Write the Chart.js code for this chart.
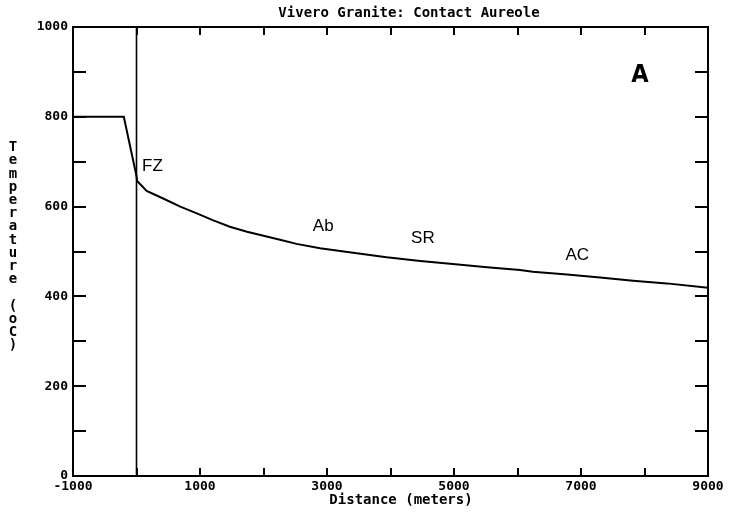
<!DOCTYPE html>
<html>
<head>
<meta charset="utf-8">
<script src="https://cdn.jsdelivr.net/npm/chart.js@4/dist/chart.umd.min.js"></script>
<style>
  html, body { margin: 0; padding: 0; background: #fff; }
</style>
</head>
<body>
<canvas id="chart" width="729" height="514"></canvas>
<script>
// temperature profile across the contact aureole
const distance = [-1000, -200, 0, 10, 160, 420, 690, 950, 1200, 1470, 1740, 2000, 2260, 2520,
  2890, 3410, 3940, 4470, 4980, 5520, 6040, 6240, 6780, 7300, 7820, 8350, 9000];
const temperature = [800, 800, 668, 657, 635, 618, 600, 585, 570, 555, 544, 535, 526, 517,
  507, 497, 487, 479, 472, 465, 459, 455, 449, 442, 435, 429, 419];

// granite contact
const contactX = [0, 0];
const contactY = [0, 1000];

// zone labels
const zoneNames = ['FZ', 'Ab', 'SR', 'AC'];
const zoneX = [250, 2940, 4510, 6940];
const zoneY = [690, 557, 530, 492];

const panelLabel = 'A';
const chartTitle = 'Vivero Granite: Contact Aureole';
const xTitle = 'Distance (meters)';
const yTitle = 'Temperature (oC)';

const mono = '"DejaVu Sans Mono", "Liberation Mono", monospace';

const frame = {
  id: 'frame',
  afterDraw(chart) {
    const { ctx, chartArea: a, scales: { x, y } } = chart;
    ctx.save();
    ctx.strokeStyle = '#000';
    ctx.lineWidth = 2;
    ctx.strokeRect(a.left, a.top, a.right - a.left, a.bottom - a.top);

    // inward tick marks
    ctx.beginPath();
    y.ticks.forEach(t => {
      if (t.value <= 0 || t.value >= 1000) return;
      const py = Math.round(y.getPixelForValue(t.value));
      ctx.moveTo(a.left, py); ctx.lineTo(a.left + 13, py);
      ctx.moveTo(a.right, py); ctx.lineTo(a.right - 13, py);
    });
    x.ticks.forEach(t => {
      if (t.value <= -1000 || t.value >= 9000) return;
      const px = Math.round(x.getPixelForValue(t.value));
      ctx.moveTo(px, a.bottom); ctx.lineTo(px, a.bottom - 8);
      ctx.moveTo(px, a.top); ctx.lineTo(px, a.top + 8);
    });
    ctx.stroke();

    ctx.fillStyle = '#000';
    ctx.textAlign = 'center';
    ctx.textBaseline = 'middle';

    // titles
    ctx.font = 'bold 14px ' + mono;
    ctx.fillText(chartTitle, a.left + 336, 13);
    ctx.fillText(xTitle, a.left + 328, 500);

    ctx.font = '17px "Liberation Sans", Arial, sans-serif';
    zoneNames.forEach((n, i) => {
      ctx.fillText(n, x.getPixelForValue(zoneX[i]), y.getPixelForValue(zoneY[i]));
    });

    ctx.font = 'bold 25px "DejaVu Sans Condensed", "Liberation Sans", sans-serif';
    ctx.fillText(panelLabel, x.getPixelForValue(7930), y.getPixelForValue(892));

    // stacked vertical axis title
    ctx.font = 'bold 14px ' + mono;
    const step = 13.2;
    const mid = (a.top + a.bottom) / 2 - 5;
    const start = mid - step * (yTitle.length - 1) / 2;
    [...yTitle].forEach((c, i) => {
      if (c !== ' ') ctx.fillText(c, 13, start + i * step);
    });
    ctx.restore();
  }
};

new Chart(document.getElementById('chart'), {
  type: 'scatter',
  data: {
    datasets: [
      {
        data: distance.map((d, i) => ({ x: d, y: temperature[i] })),
        showLine: true,
        borderColor: '#000',
        borderWidth: 2,
        pointRadius: 0,
        tension: 0
      },
      {
        data: contactX.map((d, i) => ({ x: d, y: contactY[i] })),
        showLine: true,
        borderColor: '#000',
        borderWidth: 1.6,
        pointRadius: 0
      }
    ]
  },
  options: {
    responsive: false,
    animation: false,
    devicePixelRatio: 1,
    layout: { padding: { left: 0, right: 21, top: 27, bottom: 0 } },
    plugins: {
      legend: { display: false },
      tooltip: { enabled: false },
      title: { display: false }
    },
    scales: {
      x: {
        type: 'linear',
        min: -1000,
        max: 9000,
        grid: { display: false, drawTicks: false },
        border: { display: false },
        ticks: {
          stepSize: 1000,
          autoSkip: false,
          maxRotation: 0,
          padding: 3,
          color: '#000',
          font: { family: mono, size: 13, weight: 'bold' },
          callback: v => Math.abs(v / 1000) % 2 === 1 ? String(v) : ''
        },
        afterFit: s => { s.height = 38; }
      },
      y: {
        min: 0,
        max: 1000,
        grid: { display: false, drawTicks: false },
        border: { display: false },
        ticks: {
          stepSize: 100,
          autoSkip: false,
          padding: 5,
          color: '#000',
          font: { family: mono, size: 13, weight: 'bold' },
          callback: v => v % 200 === 0 ? String(v) : ''
        },
        afterFit: s => { s.width = 73; }
      }
    }
  },
  plugins: [frame]
});
</script>
</body>
</html>
